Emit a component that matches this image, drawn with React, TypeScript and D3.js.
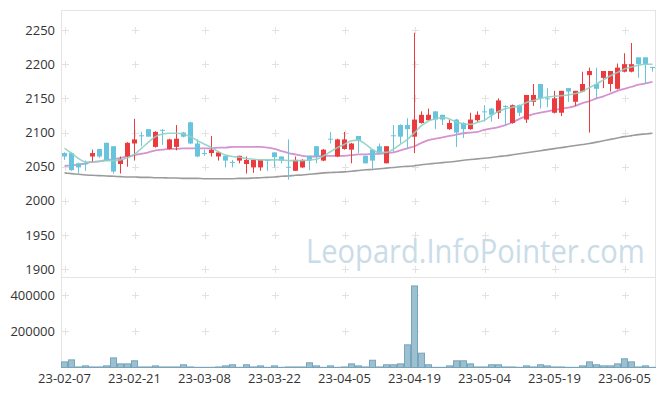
import React from 'react';
import * as d3 from 'd3';

const dates = [
  '23-02-07', '23-02-08', '23-02-09', '23-02-10', '23-02-13', '23-02-14', '23-02-15', '23-02-16', '23-02-17', '23-02-20',
  '23-02-21', '23-02-22', '23-02-23', '23-02-24', '23-02-27', '23-02-28', '23-03-02', '23-03-03', '23-03-06', '23-03-07',
  '23-03-08', '23-03-09', '23-03-10', '23-03-13', '23-03-14', '23-03-15', '23-03-16', '23-03-17', '23-03-20', '23-03-21',
  '23-03-22', '23-03-23', '23-03-24', '23-03-27', '23-03-28', '23-03-29', '23-03-30', '23-03-31', '23-04-03', '23-04-04',
  '23-04-05', '23-04-06', '23-04-07', '23-04-10', '23-04-11', '23-04-12', '23-04-13', '23-04-14', '23-04-17', '23-04-18',
  '23-04-19', '23-04-20', '23-04-21', '23-04-24', '23-04-25', '23-04-26', '23-04-27', '23-04-28', '23-05-02', '23-05-03',
  '23-05-04', '23-05-08', '23-05-09', '23-05-10', '23-05-11', '23-05-12', '23-05-15', '23-05-16', '23-05-17', '23-05-18',
  '23-05-19', '23-05-22', '23-05-23', '23-05-24', '23-05-25', '23-05-26', '23-05-30', '23-05-31', '23-06-01', '23-06-02',
  '23-06-05', '23-06-07', '23-06-08', '23-06-09', '23-06-12'
];

const opens = [
  2070, 2070, 2055, 2055, 2065, 2076, 2085, 2080, 2054, 2065,
  2084, 2096, 2105, 2079, 2104, 2076, 2079, 2100, 2115, 2084,
  2070, 2070, 2065, 2066, 2057, 2059, 2054, 2049, 2049, 2060,
  2071, 2065, 2050, 2044, 2049, 2066, 2080, 2059, 2091, 2065,
  2076, 2075, 2095, 2066, 2075, 2080, 2055, 2096, 2111, 2111,
  2094, 2114, 2118, 2131, 2126, 2105, 2119, 2114, 2105, 2118,
  2131, 2135, 2129, 2139, 2114, 2140, 2119, 2145, 2171, 2150,
  2129, 2129, 2165, 2145, 2160, 2184, 2171, 2180, 2171, 2164,
  2189, 2189, 2210, 2210, 2196
];
const highs = [
  2071, 2071, 2056, 2059, 2075, 2076, 2085, 2080, 2065, 2086,
  2120, 2101, 2105, 2102, 2105, 2091, 2111, 2101, 2116, 2090,
  2075, 2095, 2071, 2066, 2060, 2066, 2065, 2060, 2060, 2060,
  2071, 2065, 2090, 2065, 2061, 2066, 2080, 2076, 2101, 2091,
  2101, 2085, 2095, 2066, 2076, 2084, 2080, 2111, 2112, 2121,
  2246, 2131, 2135, 2131, 2126, 2119, 2120, 2115, 2129, 2131,
  2140, 2136, 2150, 2140, 2141, 2141, 2155, 2171, 2171, 2165,
  2161, 2161, 2165, 2161, 2189, 2195, 2195, 2190, 2190, 2201,
  2216, 2231, 2210, 2210, 2196
];
const lows = [
  2060, 2044, 2040, 2044, 2056, 2063, 2058, 2040, 2040, 2050,
  2059, 2080, 2094, 2078, 2082, 2075, 2074, 2093, 2083, 2064,
  2066, 2065, 2059, 2049, 2049, 2055, 2040, 2041, 2044, 2044,
  2049, 2055, 2031, 2044, 2048, 2045, 2055, 2058, 2084, 2064,
  2075, 2055, 2070, 2055, 2045, 2069, 2055, 2072, 2084, 2077,
  2070, 2113, 2118, 2105, 2111, 2104, 2079, 2092, 2104, 2114,
  2116, 2116, 2120, 2111, 2113, 2124, 2114, 2139, 2135, 2137,
  2128, 2124, 2145, 2139, 2159, 2100, 2150, 2165, 2160, 2163,
  2188, 2188, 2180, 2171, 2189
];
const closes = [
  2065, 2045, 2049, 2054, 2070, 2065, 2059, 2043, 2061, 2085,
  2090, 2095, 2094, 2101, 2103, 2090, 2091, 2094, 2084, 2065,
  2069, 2075, 2071, 2059, 2056, 2066, 2060, 2060, 2060, 2059,
  2064, 2059, 2049, 2060, 2060, 2059, 2065, 2075, 2090, 2090,
  2090, 2084, 2089, 2055, 2059, 2070, 2080, 2095, 2094, 2105,
  2119, 2126, 2126, 2119, 2119, 2114, 2100, 2105, 2119, 2126,
  2130, 2126, 2147, 2138, 2140, 2129, 2155, 2155, 2150, 2149,
  2150, 2161, 2160, 2161, 2171, 2190, 2164, 2190, 2190, 2195,
  2200, 2200, 2200, 2200, 2195
];
const volumes = [
  31000, 42000, 3000, 9000, 3000, 3000, 9000, 53000, 20000, 20000,
  37000, 3000, 3000, 9000, 3000, 3000, 3000, 15000, 3000, 1000,
  1000, 1000, 3000, 9000, 15000, 1000, 15000, 3000, 9000, 1000,
  9000, 1000, 3000, 3000, 3000, 26000, 9000, 1000, 9000, 1000,
  3000, 20000, 9000, 3000, 40000, 3000, 15000, 15000, 20000, 125000,
  450000, 79000, 15000, 1000, 1000, 9000, 37000, 37000, 20000, 3000,
  3000, 15000, 15000, 3000, 3000, 1000, 9000, 3000, 15000, 9000,
  3000, 3000, 1000, 1000, 9000, 31000, 15000, 9000, 9000, 20000,
  48000, 31000, 3000, 9000, 1000
];
const ma5 = [
  2077, 2070, 2062, 2057, 2057, 2058, 2059, 2059, 2060, 2063,
  2068, 2077, 2086, 2094, 2098, 2099, 2099, 2098, 2094, 2088,
  2083, 2078, 2072, 2067, 2065, 2064, 2062, 2061, 2060, 2060,
  2060, 2060, 2059, 2059, 2059, 2060, 2061, 2066, 2072, 2078,
  2083, 2088, 2089, 2083, 2075, 2071, 2071, 2076, 2083, 2090,
  2100, 2110, 2117, 2120, 2122, 2120, 2115, 2113, 2112, 2115,
  2118, 2125, 2131, 2135, 2137, 2139, 2144, 2147, 2150, 2152,
  2153, 2154, 2155, 2157, 2160, 2166, 2171, 2177, 2183, 2188,
  2193, 2196, 2198.5, 2200, 2200
];
const ma20 = [
  2051, 2052, 2053, 2055, 2057, 2058, 2060, 2061, 2063, 2065,
  2067, 2069, 2071, 2074, 2075, 2076, 2076, 2077, 2077, 2077,
  2077, 2077, 2078, 2078, 2079, 2079, 2079, 2079, 2079, 2078,
  2076, 2073, 2070, 2068, 2066, 2065, 2065, 2066, 2066, 2066,
  2066, 2067, 2068, 2068, 2069, 2069, 2070, 2071, 2074, 2077,
  2080, 2085, 2089, 2091, 2093, 2095, 2097, 2099, 2100, 2101,
  2104, 2106, 2108, 2111, 2115, 2120, 2124, 2127, 2129, 2131,
  2133, 2135, 2136.5, 2139, 2143, 2146, 2150, 2153, 2157, 2161,
  2164, 2167, 2170, 2172, 2174
];
const ma60 = [
  2041, 2040, 2039, 2038, 2037.5, 2037, 2036.5, 2036, 2035.5, 2035,
  2035, 2034.5, 2034.5, 2034, 2034, 2033.5, 2033.5, 2033, 2033, 2033,
  2032.5, 2032.5, 2032.5, 2032.5, 2032.5, 2033, 2033, 2033.5, 2034, 2034.5,
  2035, 2036, 2036.5, 2037.5, 2038, 2039, 2040, 2041, 2041.5, 2042,
  2042.5, 2043.5, 2044.5, 2045.5, 2046, 2047, 2048, 2049, 2050, 2050.5,
  2051.5, 2053, 2054, 2055, 2056, 2057, 2058, 2059.5, 2060.5, 2061.5,
  2062.5, 2063.5, 2065, 2066, 2067.5, 2069, 2070.5, 2072, 2073.5, 2075,
  2076.5, 2078, 2079.5, 2081, 2082.5, 2084, 2086, 2088, 2090, 2092,
  2094, 2095.5, 2097, 2098, 2099
];

const priceTicks = [1900, 1950, 2000, 2050, 2100, 2150, 2200, 2250];
const volumeTicks = [200000, 400000];

const W = 665;
const H = 396;
const left = 61;
const right = 656;
const priceTop = 10;
const priceBottom = 277.5;
const volBottom = 367.5;

const UP = '#ec3b3f';
const DOWN = '#68c3dc';
const FONT = '"Open Sans", "Noto Sans", sans-serif';

export default function App() {
  const idx = d3.range(dates.length);
  const x = d3.scaleBand<number>().domain(idx).range([left, right]).padding(0);
  const cx = (i: number) => (x(i) as number) + x.bandwidth() / 2;
  const y = d3.scaleLinear().domain([1900, 2250]).range([269.3, 30]);
  const yv = d3.scaleLinear().domain([0, 400000]).range([volBottom, 295]);

  const line = (vals: number[]) =>
    d3.line<number>().x((_, i) => cx(i)).y(d => y(d)).curve(d3.curveMonotoneX)(vals) || '';

  const gridX = idx.filter(i => i % 10 === 0);
  const cross = (px: number, py: number, key: string) => (
    <g key={key} stroke="#e2e2e2" strokeWidth={1}>
      <line x1={px - 3.5} x2={px + 3.5} y1={py} y2={py} />
      <line x1={px} x2={px} y1={py - 3.5} y2={py + 3.5} />
    </g>
  );

  return (
    <svg width={W} height={H} style={{ position: 'absolute', left: 0, top: 0, background: '#fff' }}>
      {/* frame */}
      <g stroke="#e4e4e4" strokeWidth={1} fill="none">
        <line x1={left + 0.5} x2={right} y1={priceTop + 0.5} y2={priceTop + 0.5} />
        <line x1={left + 0.5} x2={left + 0.5} y1={priceTop} y2={volBottom} />
        <line x1={right - 0.5} x2={right - 0.5} y1={priceTop} y2={volBottom} />
        <line x1={left} x2={right} y1={priceBottom} y2={priceBottom} />
        <line x1={left} x2={right} y1={volBottom} y2={volBottom} />
      </g>

      {/* grid crosses */}
      {gridX.map(i => priceTicks.map(t => cross(Math.round(cx(i)) + 0.5, Math.round(y(t)) + 0.5, `p${i}-${t}`)))}
      {gridX.map(i => volumeTicks.map(t => cross(Math.round(cx(i)) + 0.5, Math.round(yv(t)) + 0.5, `v${i}-${t}`)))}

      {/* watermark, squeezed horizontally like the original's narrower face */}
      <g transform="translate(306,263) scale(0.88,1)">
        <text x={0} y={0} fontFamily={FONT} fontSize={33} fill="#c9dce8" textLength={385} lengthAdjust="spacingAndGlyphs">
          Leopard.InfoPointer.com
        </text>
      </g>

      {/* moving averages */}
      <path d={line(ma60)} fill="none" stroke="#9b9b9b" strokeWidth={1.6} />
      <path d={line(ma20)} fill="none" stroke="#d593d0" strokeWidth={1.8} />

      {/* candles */}
      {idx.map(i => {
        const o = opens[i], c = closes[i];
        const up = c > o;
        const col = up ? UP : DOWN;
        const top = y(Math.max(o, c));
        const h = Math.max(1, y(Math.min(o, c)) - top);
        const xc = Math.floor(cx(i)) + 0.5;
        return (
          <g key={`c${i}`}>
            <line x1={xc} x2={xc} y1={y(highs[i])} y2={y(lows[i])} stroke={col} strokeWidth={1} />
            <rect x={xc - 2.5} y={top} width={5} height={h} fill={col} />
          </g>
        );
      })}

      <path d={line(ma5)} fill="none" stroke="#8fd2c3" strokeWidth={1.6} opacity={0.9} />

      {/* volume */}
      {idx.map(i => (
        <rect
          key={`v${i}`}
          x={(x(i) as number) + 0.5}
          y={yv(volumes[i])}
          width={x.bandwidth() - 1}
          height={volBottom - yv(volumes[i])}
          fill="#9dc0d1"
          stroke="#78a5ba"
          strokeWidth={1}
        />
      ))}

      {/* axes labels */}
      <g fontFamily={FONT} fontSize={13} fill="#333">
        {priceTicks.map(t => (
          <text key={`pt${t}`} x={55} y={y(t) + 4.5} textAnchor="end">{t}</text>
        ))}
        {volumeTicks.map(t => (
          <text key={`vt${t}`} x={55} y={yv(t) + 4.5} textAnchor="end">{t}</text>
        ))}
        {gridX.map(i => (
          <text key={`xt${i}`} x={cx(i)} y={383} textAnchor="middle">{dates[i]}</text>
        ))}
      </g>
    </svg>
  );
}
